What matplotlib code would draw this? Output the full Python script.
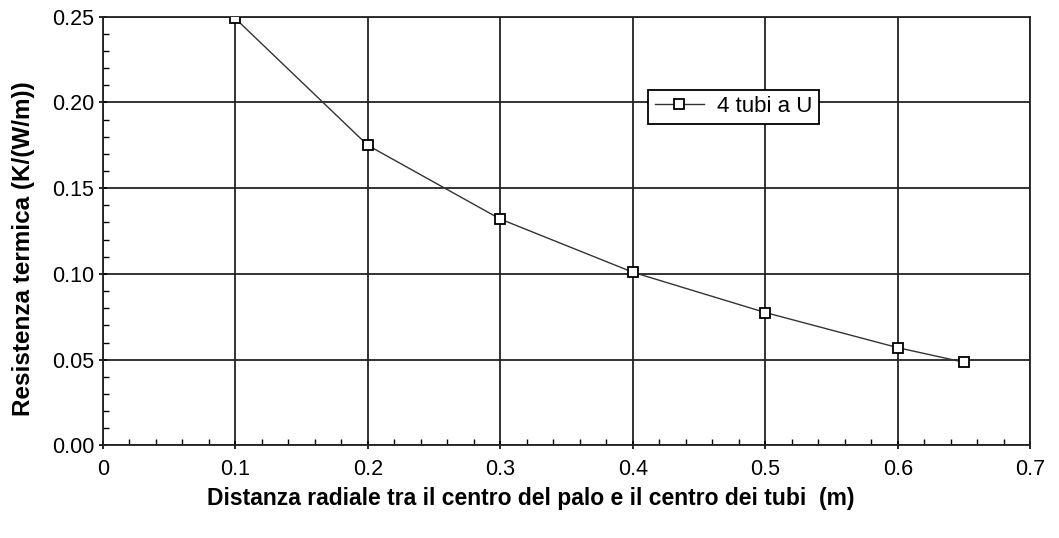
import numpy as np
import matplotlib.pyplot as plt
from matplotlib.ticker import MultipleLocator

plt.rcParams['font.family'] = ['Liberation Sans', 'DejaVu Sans']

# distanza radiale (m) e resistenza termica (K/(W/m))
distanza = [0.10, 0.20, 0.30, 0.40, 0.50, 0.60, 0.65]
resistenza = [0.249, 0.175, 0.132, 0.101, 0.0775, 0.057, 0.0485]
xticks = ['0', '0.1', '0.2', '0.3', '0.4', '0.5', '0.6', '0.7']

fig = plt.figure(figsize=(10.59, 5.38), dpi=100)
ax = fig.add_axes([0.097, 0.172, 0.876, 0.797])

ax.plot(distanza, resistenza, color='#333333', lw=1.0, marker='s', ms=7,
        mfc='white', mec='black', mew=1.3, label='4 tubi a U', zorder=3)

ax.set_xlim(0, 0.7)
ax.set_ylim(0, 0.25)
ax.set_xticks(np.arange(0, 0.71, 0.1))
ax.set_xticklabels(xticks)
ax.xaxis.set_minor_locator(MultipleLocator(0.02))
ax.yaxis.set_major_locator(MultipleLocator(0.05))
ax.yaxis.set_minor_locator(MultipleLocator(0.01))
ax.yaxis.set_major_formatter(plt.FormatStrFormatter('%.2f'))

ax.grid(True, which='major', color='#222222', lw=1.3)
ax.tick_params(which='major', direction='inout', length=6, width=1.2, labelsize=15.5, pad=7)
ax.tick_params(which='minor', direction='in', length=4, width=1.0)
ax.tick_params(axis='y', pad=3)
for s in ax.spines.values():
    s.set_linewidth(1.3)
    s.set_color('#222222')

ax.set_xlabel('Distanza radiale tra il centro del palo e il centro dei tubi  (m)',
              fontsize=16.5, fontweight='bold')
ax.xaxis.set_label_coords(0.461, -0.098)
ax.set_ylabel('Resistenza termica (K/(W/m))', fontsize=17.5, fontweight='bold')
ax.yaxis.set_label_coords(-0.073, 0.46)

leg = ax.legend(loc='center', bbox_to_anchor=(0.680, 0.79), fancybox=False,
                framealpha=1, edgecolor='black', fontsize=16, handlelength=2.2,
                handletextpad=0.6, borderpad=0.3, borderaxespad=0)
leg.get_frame().set_linewidth(1.3)

fig.savefig('out.png', dpi=100)
